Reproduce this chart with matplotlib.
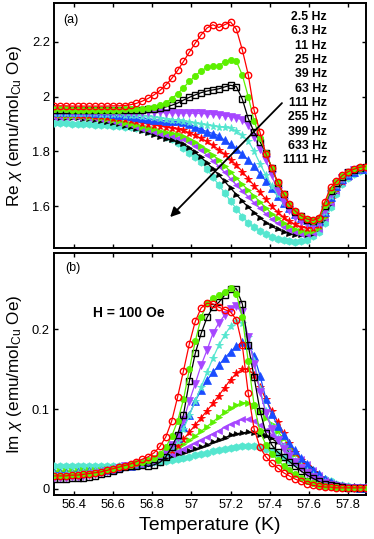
import matplotlib
matplotlib.use("Agg")
import matplotlib.pyplot as plt
from matplotlib.ticker import FixedLocator, FixedFormatter

plt.rcParams['font.family'] = ['Liberation Sans', 'DejaVu Sans']
plt.rcParams['mathtext.fontset'] = 'custom'
plt.rcParams['mathtext.rm'] = 'Liberation Sans'
plt.rcParams['mathtext.it'] = 'Liberation Sans:italic'

# ---------------- data ----------------
T = [56.30, 56.33, 56.36, 56.39, 56.42, 56.45, 56.48, 56.51, 56.54, 56.57,
     56.60, 56.63, 56.66, 56.69, 56.72, 56.75, 56.78, 56.81, 56.84, 56.87,
     56.90, 56.93, 56.96, 56.99, 57.02, 57.05, 57.08, 57.11, 57.14, 57.17,
     57.20, 57.23, 57.26, 57.29, 57.32, 57.35, 57.38, 57.41, 57.44, 57.47,
     57.50, 57.53, 57.56, 57.59, 57.62, 57.65, 57.68, 57.71, 57.74, 57.77,
     57.80, 57.83, 57.86, 57.89, 57.92]

freq_labels = ['2.5 Hz', '6.3 Hz', '11 Hz', '25 Hz', '39 Hz', '63 Hz',
               '111 Hz', '255 Hz', '399 Hz', '633 Hz', '1111 Hz']

# Real part (panel a)
re_2p5 = [1.966, 1.966, 1.966, 1.965, 1.965, 1.965, 1.965, 1.965, 1.965, 1.965, 1.966, 1.966,
          1.967, 1.970, 1.975, 1.983, 1.993, 2.006, 2.022, 2.042, 2.066, 2.095, 2.128, 2.162,
          2.195, 2.225, 2.250, 2.262, 2.252, 2.262, 2.272, 2.245, 2.170, 2.080, 1.950, 1.870,
          1.790, 1.740, 1.688, 1.645, 1.607, 1.582, 1.565, 1.553, 1.548, 1.556, 1.615, 1.668,
          1.690, 1.712, 1.726, 1.735, 1.742, 1.744, 1.740]
re_6p3 = [1.953, 1.953, 1.953, 1.952, 1.952, 1.952, 1.952, 1.952, 1.952, 1.952, 1.952, 1.952,
          1.953, 1.953, 1.954, 1.955,
          1.957, 1.961, 1.968, 1.978, 1.992, 2.010, 2.032, 2.055, 2.075, 2.094, 2.106, 2.110,
          2.113, 2.126, 2.135, 2.128, 2.078, 2.000, 1.910, 1.850, 1.795, 1.740, 1.686, 1.644,
          1.606, 1.581, 1.564, 1.552, 1.546, 1.552, 1.605, 1.660, 1.688, 1.710, 1.725, 1.734,
          1.740, 1.742, 1.738]
re_11 = [1.951, 1.951, 1.950, 1.950, 1.950, 1.950, 1.950, 1.950, 1.950, 1.950, 1.950, 1.950,
         1.950, 1.950, 1.951, 1.952, 1.953, 1.955,
         1.958, 1.962, 1.968, 1.976, 1.987, 1.997, 2.006, 2.014, 2.020, 2.024, 2.028, 2.035,
         2.041, 2.036, 1.990, 1.920, 1.870, 1.835, 1.795, 1.740, 1.685, 1.645, 1.605, 1.580,
         1.563, 1.551, 1.546, 1.553, 1.600, 1.655, 1.685, 1.708, 1.723, 1.732, 1.738, 1.741,
         1.738]
re_25 = [1.946, 1.946, 1.946, 1.945, 1.945, 1.945, 1.945, 1.945, 1.945, 1.944, 1.944, 1.944,
         1.944, 1.943, 1.943, 1.943, 1.942, 1.942, 1.942, 1.941, 1.941, 1.940, 1.940, 1.939,
         1.939,
         1.938, 1.937, 1.935, 1.933, 1.930, 1.927, 1.923, 1.914, 1.895, 1.852, 1.810, 1.768,
         1.712, 1.656, 1.615, 1.585, 1.562, 1.546, 1.537, 1.532, 1.538, 1.585, 1.645, 1.680,
         1.704, 1.720, 1.730, 1.737, 1.740, 1.737]
re_39 = [1.940, 1.940, 1.940, 1.939, 1.939, 1.939, 1.938, 1.938, 1.937, 1.937, 1.936, 1.935,
         1.934, 1.933, 1.932, 1.930,
         1.928, 1.925, 1.922, 1.919, 1.916, 1.913, 1.910, 1.906, 1.903, 1.899, 1.896, 1.893,
         1.890, 1.887, 1.884, 1.875, 1.858, 1.838, 1.800, 1.755, 1.713, 1.675, 1.643, 1.615,
         1.595, 1.573, 1.555, 1.543, 1.538, 1.542, 1.580, 1.638, 1.676, 1.700, 1.717, 1.728,
         1.735, 1.738, 1.736]
re_63 = [1.945, 1.945, 1.945, 1.944, 1.944, 1.943, 1.942, 1.941, 1.940, 1.938, 1.936, 1.934,
         1.931, 1.928, 1.925, 1.922,
         1.919, 1.916, 1.913, 1.911, 1.910, 1.909, 1.907, 1.900, 1.890, 1.880, 1.872, 1.865,
         1.857, 1.840, 1.825, 1.810, 1.790, 1.768, 1.745, 1.718, 1.692, 1.665, 1.638, 1.613,
         1.592, 1.573, 1.558, 1.548, 1.543, 1.546, 1.578, 1.632, 1.672, 1.698, 1.715, 1.726,
         1.734, 1.737, 1.735]
re_111 = [1.936, 1.936, 1.935, 1.935, 1.934, 1.933, 1.932, 1.930, 1.928, 1.926, 1.923, 1.920,
          1.917, 1.913, 1.909, 1.905,
          1.901, 1.897, 1.893, 1.889, 1.885, 1.881, 1.876, 1.868, 1.858, 1.847, 1.836, 1.822,
          1.806, 1.790, 1.770, 1.750, 1.726, 1.700, 1.675, 1.650, 1.625, 1.600, 1.578, 1.560,
          1.545, 1.533, 1.524, 1.520, 1.520, 1.530, 1.570, 1.625, 1.665, 1.693, 1.712, 1.724,
          1.732, 1.736, 1.734]
re_255 = [1.931, 1.931, 1.930, 1.930, 1.929, 1.928, 1.926, 1.924, 1.921, 1.918, 1.914, 1.910,
          1.905, 1.900, 1.895, 1.890,
          1.885, 1.880, 1.875, 1.870, 1.866, 1.862, 1.856, 1.846, 1.834, 1.820, 1.803, 1.786,
          1.768, 1.748, 1.725, 1.702, 1.680, 1.658, 1.637, 1.615, 1.594, 1.573, 1.555, 1.540,
          1.527, 1.517, 1.510, 1.507, 1.508, 1.520, 1.560, 1.618, 1.660, 1.690, 1.710, 1.722,
          1.731, 1.735, 1.734]
re_399 = [1.927, 1.927, 1.926, 1.926, 1.925, 1.924, 1.922, 1.920, 1.917, 1.914, 1.910, 1.905,
          1.900, 1.895, 1.889, 1.883,
          1.877, 1.871, 1.865, 1.860, 1.855, 1.850, 1.844, 1.833, 1.820, 1.804, 1.786, 1.766,
          1.745, 1.723, 1.700, 1.677, 1.656, 1.634, 1.612, 1.592, 1.572, 1.553, 1.537, 1.524,
          1.513, 1.505, 1.500, 1.499, 1.502, 1.515, 1.555, 1.612, 1.656, 1.688, 1.708, 1.721,
          1.730, 1.734, 1.733]
re_633 = [1.922, 1.922, 1.921, 1.921, 1.920, 1.919, 1.917, 1.914, 1.911, 1.907, 1.903, 1.898,
          1.893, 1.887, 1.881, 1.874,
          1.867, 1.860, 1.853, 1.846, 1.840, 1.834, 1.826, 1.812, 1.796, 1.778, 1.758, 1.736,
          1.713, 1.690, 1.666, 1.642, 1.618, 1.596, 1.576, 1.557, 1.540, 1.526, 1.515, 1.506,
          1.500, 1.496, 1.494, 1.495, 1.500, 1.515, 1.552, 1.608, 1.652, 1.685, 1.706, 1.720,
          1.729, 1.733, 1.733]
re_1111 = [1.902, 1.902, 1.902, 1.901, 1.900, 1.899, 1.898, 1.897, 1.896, 1.895, 1.893, 1.891,
           1.889, 1.887, 1.884, 1.880,
           1.875, 1.869, 1.862, 1.854, 1.845, 1.830, 1.812, 1.795, 1.778, 1.762, 1.735, 1.705,
           1.678, 1.648, 1.618, 1.590, 1.562, 1.540, 1.523, 1.508, 1.497, 1.488, 1.481, 1.476,
           1.472, 1.470, 1.471, 1.478, 1.490, 1.505, 1.540, 1.595, 1.645, 1.680, 1.702, 1.717,
           1.727, 1.732, 1.733]

# Imaginary part (panel b)
im_2p5 = [0.016, 0.016, 0.016, 0.017, 0.017, 0.018, 0.019, 0.020, 0.021, 0.023, 0.025, 0.027,
          0.029, 0.031, 0.034, 0.037, 0.040, 0.045, 0.053, 0.065, 0.085, 0.115, 0.148, 0.182,
          0.210, 0.227, 0.233, 0.232, 0.228, 0.225, 0.222, 0.212, 0.180, 0.120, 0.075, 0.052,
          0.040, 0.032, 0.026, 0.020, 0.016, 0.012, 0.009, 0.006, 0.004, 0.003, 0.002, 0.002,
          0.001, 0.001, 0.001, 0.001, 0.001, 0.001, 0.001]
im_6p3 = [0.016, 0.016, 0.016, 0.017, 0.017, 0.018, 0.019, 0.020, 0.021, 0.023, 0.025, 0.027,
          0.028, 0.030, 0.032, 0.034, 0.036, 0.039, 0.044, 0.052, 0.066, 0.085, 0.112, 0.150,
          0.185, 0.215, 0.233, 0.240, 0.243, 0.247, 0.252, 0.245, 0.215, 0.160, 0.105, 0.072,
          0.055, 0.044, 0.036, 0.029, 0.023, 0.018, 0.013, 0.010, 0.007, 0.005, 0.003, 0.002,
          0.002, 0.001, 0.001, 0.001, 0.001, 0.001, 0.001]
im_11 = [0.012, 0.012, 0.012, 0.013, 0.013, 0.014, 0.015, 0.016, 0.018, 0.020, 0.022, 0.025,
         0.027, 0.028, 0.029, 0.030, 0.028, 0.030, 0.033, 0.040, 0.052, 0.068, 0.093, 0.135,
         0.170, 0.195, 0.215, 0.228, 0.234, 0.243, 0.251, 0.251, 0.232, 0.180, 0.140, 0.098,
         0.070, 0.055, 0.046, 0.040, 0.034, 0.028, 0.022, 0.017, 0.013, 0.009, 0.006, 0.004,
         0.003, 0.002, 0.001, 0.001, 0.001, 0.001, 0.001]
im_25 = [0.014, 0.014, 0.014, 0.015, 0.015, 0.016, 0.017, 0.018, 0.020, 0.022, 0.024, 0.026,
         0.028, 0.029, 0.030, 0.031, 0.033, 0.035, 0.040, 0.046, 0.055, 0.065, 0.086, 0.110,
         0.132, 0.155, 0.174, 0.195, 0.208, 0.218, 0.226, 0.229, 0.222, 0.190, 0.157, 0.122,
         0.095, 0.075, 0.061, 0.050, 0.041, 0.033, 0.026, 0.020, 0.015, 0.011, 0.007, 0.005,
         0.003, 0.002, 0.001, 0.001, 0.001, 0.001, 0.001]
im_39 = [0.019, 0.019, 0.019, 0.020, 0.020, 0.021, 0.021, 0.022, 0.023, 0.024, 0.025, 0.027,
         0.028, 0.029, 0.030, 0.031, 0.033, 0.035, 0.039, 0.044, 0.051, 0.060, 0.075, 0.092,
         0.110, 0.128, 0.146, 0.164, 0.180, 0.193, 0.204, 0.211, 0.208, 0.190, 0.160, 0.125,
         0.097, 0.077, 0.063, 0.052, 0.043, 0.035, 0.028, 0.022, 0.017, 0.012, 0.008, 0.005,
         0.003, 0.002, 0.002, 0.001, 0.001, 0.001, 0.001]
im_63 = [0.020, 0.020, 0.020, 0.020, 0.021, 0.021, 0.022, 0.022, 0.023, 0.024, 0.025, 0.027,
         0.028, 0.029, 0.030, 0.032, 0.034, 0.037, 0.041, 0.046, 0.054, 0.064, 0.077, 0.093,
         0.110, 0.124, 0.136, 0.146, 0.155, 0.164, 0.172, 0.179, 0.184, 0.181, 0.167, 0.142,
         0.113, 0.094, 0.079, 0.067, 0.057, 0.048, 0.039, 0.031, 0.024, 0.018, 0.012, 0.008,
         0.005, 0.003, 0.002, 0.002, 0.001, 0.001, 0.001]
im_111 = [0.018, 0.018, 0.018, 0.019, 0.019, 0.020, 0.020, 0.021, 0.022, 0.023, 0.025, 0.027,
          0.028, 0.029, 0.030, 0.032, 0.034, 0.036, 0.039, 0.043, 0.048, 0.055, 0.062, 0.071,
          0.080, 0.089, 0.098, 0.107, 0.117, 0.127, 0.137, 0.145, 0.150, 0.150, 0.143, 0.128,
          0.112, 0.098, 0.084, 0.070, 0.057, 0.046, 0.036, 0.028, 0.021, 0.014, 0.009, 0.006,
          0.004, 0.003, 0.002, 0.002, 0.001, 0.001, 0.001]
im_255 = [0.022, 0.022, 0.022, 0.022, 0.022, 0.023, 0.023, 0.024, 0.024, 0.025, 0.026, 0.027,
          0.028, 0.029, 0.031, 0.033, 0.035, 0.038, 0.041, 0.044, 0.048, 0.052, 0.056, 0.061,
          0.066, 0.072, 0.078, 0.084, 0.090, 0.096, 0.101, 0.105, 0.108, 0.108, 0.104, 0.097,
          0.089, 0.081, 0.072, 0.063, 0.054, 0.044, 0.035, 0.027, 0.019, 0.013, 0.009, 0.006,
          0.004, 0.003, 0.002, 0.002, 0.001, 0.001, 0.001]
im_399 = [0.020, 0.020, 0.020, 0.020, 0.021, 0.021, 0.022, 0.022, 0.023, 0.024, 0.025, 0.027,
          0.028, 0.029, 0.031, 0.033, 0.035, 0.037, 0.039, 0.042, 0.044, 0.047, 0.050, 0.053,
          0.057, 0.061, 0.065, 0.069, 0.073, 0.077, 0.081, 0.084, 0.087, 0.087, 0.085, 0.080,
          0.074, 0.068, 0.062, 0.056, 0.050, 0.043, 0.037, 0.031, 0.024, 0.017, 0.011, 0.007,
          0.005, 0.003, 0.002, 0.002, 0.001, 0.001, 0.001]
im_633 = [0.015, 0.015, 0.015, 0.016, 0.016, 0.017, 0.018, 0.019, 0.020, 0.022, 0.024, 0.026,
          0.028, 0.029, 0.030, 0.032, 0.034, 0.035, 0.037, 0.039, 0.041, 0.043, 0.045, 0.047,
          0.050, 0.052, 0.055, 0.058, 0.061, 0.064, 0.067, 0.069, 0.070, 0.071, 0.070, 0.068,
          0.066, 0.063, 0.058, 0.053, 0.048, 0.043, 0.037, 0.031, 0.025, 0.018, 0.012, 0.008,
          0.005, 0.003, 0.002, 0.002, 0.001, 0.001, 0.001]
im_1111 = [0.028, 0.028, 0.028, 0.028, 0.028, 0.028, 0.028, 0.028, 0.028, 0.028, 0.028, 0.028,
           0.028, 0.029, 0.030, 0.031, 0.032, 0.033, 0.034, 0.035, 0.036, 0.037, 0.039, 0.040,
           0.042, 0.043, 0.045, 0.047, 0.048, 0.050, 0.051, 0.052, 0.053, 0.054, 0.054, 0.052,
           0.050, 0.047, 0.044, 0.040, 0.036, 0.032, 0.028, 0.024, 0.020, 0.016, 0.012, 0.009,
           0.006, 0.004, 0.003, 0.002, 0.002, 0.002, 0.002]

x_ticks = [56.4, 56.6, 56.8, 57.0, 57.2, 57.4, 57.6, 57.8]
x_ticklabels = ['56.4', '56.6', '56.8', '57', '57.2', '57.4', '57.6', '57.8']
re_ticks = [1.6, 1.8, 2.0, 2.2]
re_ticklabels = ['1.6', '1.8', '2', '2.2']
im_ticks = [0.0, 0.1, 0.2]
im_ticklabels = ['0', '0.1', '0.2']

# ---------------- styles ----------------
RED = '#ff0000'
GREEN = '#5cf000'
BLACK = '#000000'
PURPLE = '#a646ff'
CYAN = '#55e6cf'
BLUE = '#1a4cff'

styles = [
    dict(color=RED, marker='o', mfc='none', mec=RED, ms=4.6, mew=1.0),
    dict(color=GREEN, marker='o', mfc=GREEN, mec=GREEN, ms=4.4, mew=0.6),
    dict(color=BLACK, marker='s', mfc='none', mec=BLACK, ms=4.0, mew=1.0),
    dict(color=PURPLE, marker='v', mfc=PURPLE, mec=PURPLE, ms=5.4, mew=0.5),
    dict(color=CYAN, marker='*', mfc=CYAN, mec=CYAN, ms=5.8, mew=0.6),
    dict(color=BLUE, marker='^', mfc=BLUE, mec=BLUE, ms=5.4, mew=0.5),
    dict(color=RED, marker='*', mfc=RED, mec=RED, ms=5.8, mew=0.6),
    dict(color=GREEN, marker='>', mfc=GREEN, mec=GREEN, ms=5.0, mew=0.5),
    dict(color=PURPLE, marker='<', mfc=PURPLE, mec=PURPLE, ms=5.0, mew=0.5),
    dict(color=BLACK, marker='>', mfc=BLACK, mec=BLACK, ms=3.6, mew=0.5),
    dict(color=CYAN, marker='h', mfc=CYAN, mec=CYAN, ms=5.4, mew=0.5),
]

re_series = [re_2p5, re_6p3, re_11, re_25, re_39, re_63, re_111, re_255, re_399, re_633, re_1111]
im_series = [im_2p5, im_6p3, im_11, im_25, im_39, im_63, im_111, im_255, im_399, im_633, im_1111]

fig = plt.figure(figsize=(3.74, 5.39), dpi=100)
ax1 = fig.add_axes([0.1444, 0.5393, 0.834, 0.4545])
ax2 = fig.add_axes([0.1444, 0.0816, 0.834, 0.4484])

for ax, series in ((ax1, re_series), (ax2, im_series)):
    for i in range(len(series) - 1, -1, -1):
        st = styles[i]
        ax.plot(T, series[i], color=st['color'], lw=0.9, marker=st['marker'],
                ms=st['ms'], mfc=st['mfc'], mec=st['mec'], mew=st['mew'],
                zorder=3 + (len(series) - i) * 0.01)

for ax in (ax1, ax2):
    ax.set_xlim(56.3, 57.89)
    ax.xaxis.set_major_locator(FixedLocator(x_ticks))
    ax.tick_params(direction='in', top=True, right=True, length=3, width=1.0,
                   labelsize=9.3, pad=3)
    for sp in ax.spines.values():
        sp.set_linewidth(1.4)

ax1.set_ylim(1.446, 2.34)
ax1.yaxis.set_major_locator(FixedLocator(re_ticks))
ax1.yaxis.set_major_formatter(FixedFormatter(re_ticklabels))
ax1.set_xticklabels([])
ax1.set_ylabel(r'Re $\chi$ (emu/mol$_{\mathrm{Cu}}$ Oe)', fontsize=12.3, labelpad=6)

ax2.set_ylim(-0.008, 0.2956)
ax2.yaxis.set_major_locator(FixedLocator(im_ticks))
ax2.yaxis.set_major_formatter(FixedFormatter(im_ticklabels))
ax2.xaxis.set_major_formatter(FixedFormatter(x_ticklabels))
ax2.set_ylabel(r'Im $\chi$ (emu/mol$_{\mathrm{Cu}}$ Oe)', fontsize=12.3, labelpad=6)
ax2.set_xlabel('Temperature (K)', fontsize=14, labelpad=4)

# Frequency list (panel a)
y0 = 0.944
dy = 0.0584
for k, lab in enumerate(freq_labels):
    ax1.text(0.876, y0 - k * dy, lab, transform=ax1.transAxes, ha='right',
             va='center', fontsize=8.8, fontweight='bold', zorder=10)

# Arrow indicating increasing frequency
ax1.annotate('', xy=(56.892, 1.560), xytext=(57.462, 1.976),
             arrowprops=dict(arrowstyle='-|>', color='black', lw=1.3,
                             mutation_scale=14, shrinkA=0, shrinkB=0),
             zorder=12)

ax1.text(0.03, 0.955, '(a)', transform=ax1.transAxes, ha='left', va='top', fontsize=9)
ax2.text(0.035, 0.965, '(b)', transform=ax2.transAxes, ha='left', va='top', fontsize=9)
ax2.text(0.125, 0.755, 'H = 100 Oe', transform=ax2.transAxes, ha='left', va='center',
         fontsize=10, fontweight='bold')

fig.savefig('out.png', dpi=100)
